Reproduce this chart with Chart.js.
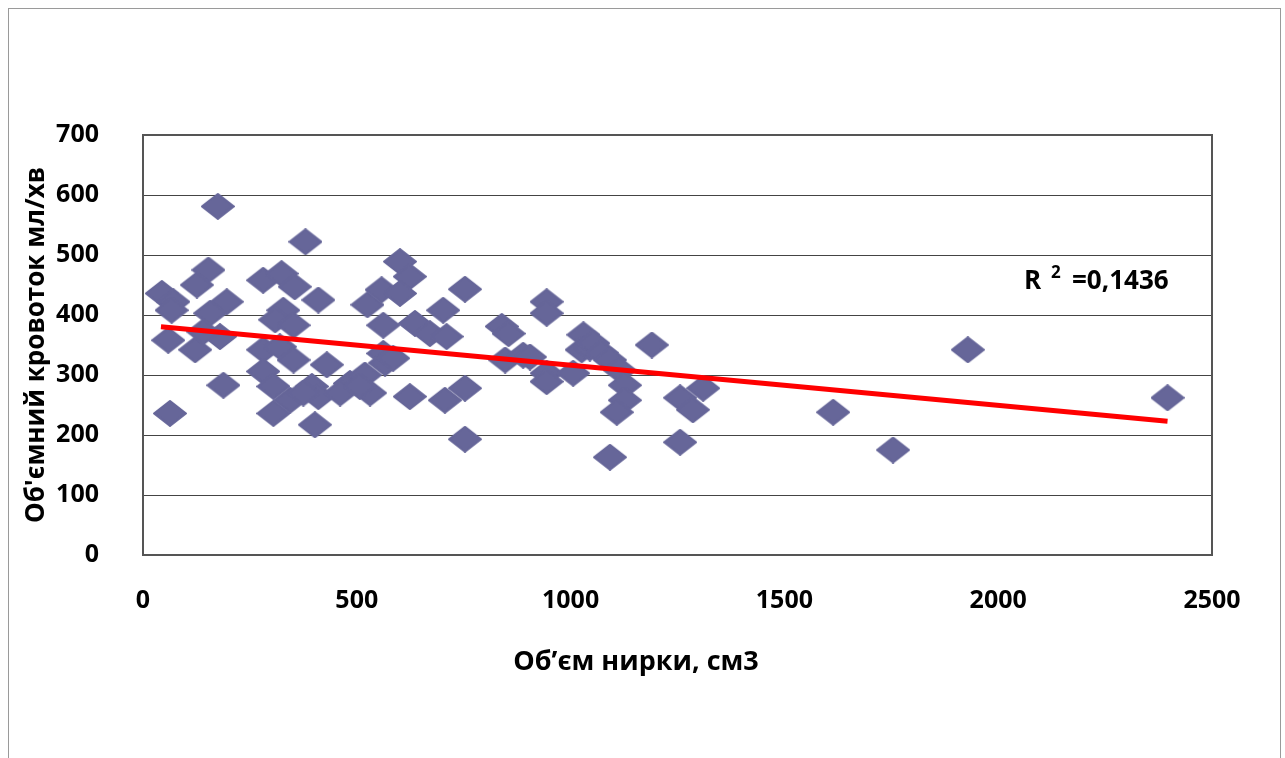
<!DOCTYPE html>
<html lang="uk">
<head>
    <meta charset="UTF-8" />
    <title>Об'ємний кровоток / Об'єм нирки</title>
    <style>
        body {
            margin: 0;
            background: #fff;
        }
        .wrap {
            position: relative;
            width: 1285px;
            height: 758px;
            overflow: hidden;
        }
        .frame {
            position: absolute;
            left: 8px;
            top: 8px;
            width: 1271px;
            height: 800px;
            border: 1px solid #9a9a9a;
        }
        .wrap canvas {
            position: absolute;
            left: 0;
            top: 0;
        }
    </style>
</head>
<body>
    <div class="wrap">
        <div class="frame"></div>
        <canvas id="scatterCanvas" width="1285" height="758"></canvas>
    </div>

    <script src="https://cdn.jsdelivr.net/npm/chart.js"></script>
    <script>
        // об'єм нирки, см3
        const kidneyVolume = [
            175, 44, 71, 67, 153, 126, 196, 157, 59, 122, 180, 141, 188, 63,
            380, 281, 324, 355, 410, 328, 309, 352, 525, 281, 320, 352, 281, 305,
            430, 395, 410, 344, 305, 402, 484, 519, 461, 375,
            601, 624, 558, 601, 753, 562, 636, 702, 671, 710, 562, 566, 531, 624,
            706, 753, 753, 507, 585,
            944, 944, 839, 855, 847, 889, 944, 944, 1006, 1030, 1026, 1045,
            1053, 1073, 1092, 1115, 1190, 1127, 1127, 1108, 1256, 1286, 1310, 1256,
            1092, 905, 1614, 1754, 1929, 2396
        ];
        // об'ємний кровоток, мл/хв
        const bloodFlow = [
            581, 436, 422, 408, 475, 450, 422, 403, 358, 342, 364, 372, 283, 236,
            522, 458, 469, 447, 425, 408, 392, 383, 417, 342, 347, 325, 306, 281,
            317, 281, 264, 258, 236, 217, 286, 300, 270, 270,
            489, 464, 442, 436, 443, 383, 386, 408, 369, 364, 336, 320, 270, 264,
            258, 278, 193, 281, 328,
            422, 403, 381, 369, 325, 333, 303, 289, 303, 367, 342, 345,
            353, 337, 325, 308, 350, 283, 258, 238, 262, 242, 278, 188,
            163, 330, 238, 175, 342, 262
        ];
        // лінія тренду (кінці)
        const trendX = [42, 2396];
        const trendY = [380.5, 223];

        const xTicks = [0, 500, 1000, 1500, 2000, 2500];
        const yTicks = [0, 100, 200, 300, 400, 500, 600, 700];

        const xTitle = 'Об’єм нирки, см3';
        const yTitle = "Об'ємний кровоток мл/хв";
        const r2Value = '=0,1436';

        const FONT = '"Open Sans", "DejaVu Sans", sans-serif';

        // diamond marker, a bit flatter than a rotated square
        function makeDiamond(w, h, color) {
            const c = document.createElement('canvas');
            c.width = w;
            c.height = h;
            const g = c.getContext('2d');
            g.fillStyle = color;
            g.strokeStyle = color;
            g.lineJoin = 'round';
            g.lineWidth = 2;
            g.beginPath();
            g.moveTo(w / 2, 1);
            g.lineTo(w - 1, h / 2);
            g.lineTo(w / 2, h - 1);
            g.lineTo(1, h / 2);
            g.closePath();
            g.fill();
            g.stroke();
            return c;
        }

        const points = kidneyVolume.map((v, i) => ({ x: v, y: bloodFlow[i] }));
        const trend = trendX.map((v, i) => ({ x: v, y: trendY[i] }));

        // plot box + free text (x title, R²)
        const textPlugin = {
            id: 'textPlugin',
            beforeDatasetsDraw(chart) {
                const { ctx, chartArea } = chart;
                ctx.save();
                ctx.strokeStyle = '#555';
                ctx.lineWidth = 2;
                ctx.strokeRect(chartArea.left, chartArea.top,
                    chartArea.right - chartArea.left, chartArea.bottom - chartArea.top);
                ctx.restore();
            },
            afterDraw(chart) {
                const { ctx, chartArea } = chart;
                ctx.save();
                ctx.fillStyle = '#000';
                ctx.font = 'bold 27px ' + FONT;
                ctx.textAlign = 'center';
                ctx.textBaseline = 'middle';
                ctx.fillText(xTitle, chartArea.left + 493, chartArea.bottom + 107);

                // R² label
                ctx.textAlign = 'left';
                ctx.textBaseline = 'alphabetic';
                const bx = chartArea.right - 188;
                const by = chartArea.top + 154;
                ctx.font = 'bold 26px ' + FONT;
                ctx.fillText('R', bx, by);
                ctx.font = 'bold 17px ' + FONT;
                ctx.fillText('2', bx + 27, by - 11);
                ctx.font = 'bold 26px ' + FONT;
                ctx.fillText(r2Value, bx + 48, by);
                ctx.restore();
            }
        };

        const ctx = document.getElementById('scatterCanvas').getContext('2d');
        new Chart(ctx, {
            type: 'scatter',
            data: {
                datasets: [{
                    type: 'line',
                    label: 'trend',
                    data: trend,
                    borderColor: '#ff0000',
                    borderWidth: 5,
                    pointRadius: 0,
                    fill: false,
                    order: 0
                }, {
                    label: 'data',
                    data: points,
                    pointStyle: makeDiamond(34, 27, '#666699'),
                    pointRadius: 14,
                    pointHoverRadius: 14,
                    order: 1
                }]
            },
            plugins: [textPlugin],
            options: {
                responsive: false,
                animation: false,
                layout: {
                    padding: { left: 0, top: 135, right: 73, bottom: 0 }
                },
                plugins: {
                    legend: { display: false },
                    tooltip: { enabled: false }
                },
                scales: {
                    x: {
                        type: 'linear',
                        min: 0,
                        max: 2500,
                        afterBuildTicks: (s) => { s.ticks = xTicks.map(v => ({ value: v })); },
                        afterFit: (s) => { s.height = 203; },
                        grid: { display: false, drawTicks: false },
                        border: { display: true, color: '#555', width: 2 },
                        ticks: {
                            padding: 31,
                            maxRotation: 0,
                            color: '#000',
                            callback: (v) => String(v),
                            font: { family: FONT, size: 25, weight: 'bold' }
                        }
                    },
                    y: {
                        type: 'linear',
                        min: 0,
                        max: 700,
                        afterBuildTicks: (s) => { s.ticks = yTicks.map(v => ({ value: v })); },
                        afterFit: (s) => { s.width = 143; },
                        grid: { color: '#444', lineWidth: 1, drawTicks: false },
                        border: { display: true, color: '#555', width: 2 },
                        ticks: {
                            padding: 44,
                            color: '#000',
                            callback: (v) => String(v),
                            font: { family: FONT, size: 25, weight: 'bold' }
                        },
                        title: {
                            display: true,
                            text: yTitle,
                            color: '#000',
                            padding: { top: 21, bottom: 0 },
                            font: { family: FONT, size: 26, weight: 'bold' }
                        }
                    }
                }
            }
        });
    </script>
</body>
</html>
